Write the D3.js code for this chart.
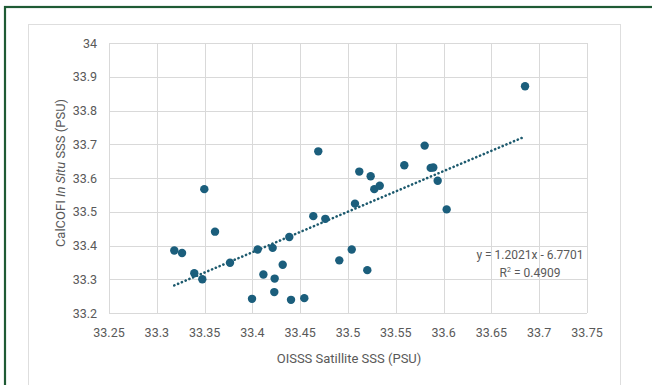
<!DOCTYPE html>
<html lang="en">
<head>
	<meta charset="UTF-8">
	<title>OISSS vs CalCOFI SSS</title>
	<script src="https://cdnjs.cloudflare.com/ajax/libs/d3/7.8.5/d3.min.js"></script>
	<style>
		body { margin: 0; background: #fff; }
		svg text { font-family: Roboto, "Liberation Sans", sans-serif; fill: #595959; }
		.grid line { stroke: #d9d9d9; stroke-width: 1; }
	</style>
</head>
<body>
	<div id="container"></div>
	<script>
		// satellite (x) vs in situ (y) salinity
		var satSSS = [33.3497, 33.3609, 33.3183, 33.3264, 33.3392, 33.3476, 33.3766, 33.4055,
			33.4212, 33.4386, 33.4317, 33.4115, 33.4233, 33.4229, 33.3996, 33.4404,
			33.6852, 33.4689, 33.5802, 33.5589, 33.5865, 33.5892, 33.5938, 33.6032,
			33.5118, 33.5237, 33.5275, 33.5332, 33.5073, 33.4637, 33.4763, 33.5039,
			33.4909, 33.5202, 33.4543];
		var insituSSS = [33.567, 33.441, 33.385, 33.378, 33.318, 33.300, 33.349, 33.388,
			33.393, 33.425, 33.343, 33.314, 33.302, 33.262, 33.242, 33.239,
			33.872, 33.679, 33.696, 33.638, 33.630, 33.631, 33.592, 33.507,
			33.619, 33.605, 33.567, 33.577, 33.524, 33.487, 33.479, 33.388,
			33.356, 33.327, 33.244];

		var xTicks = [33.25, 33.3, 33.35, 33.4, 33.45, 33.5, 33.55, 33.6, 33.65, 33.7, 33.75];
		var yTicks = [33.2, 33.3, 33.4, 33.5, 33.6, 33.7, 33.8, 33.9, 34];

		var slope = 1.2021, intercept = -6.7701;
		var eqText = "y = 1.2021x - 6.7701";
		var r2Text = "0.4909";

		var width = 652, height = 385;
		var plot = { left: 109, right: 587, top: 43, bottom: 313 };

		var svg = d3.select("#container").append("svg")
			.attr("width", width)
			.attr("height", height);

		// dark green outer frame
		svg.append("rect")
			.attr("x", 5).attr("y", 7)
			.attr("width", 700).attr("height", 420)
			.attr("fill", "none")
			.attr("stroke", "#1f5b35")
			.attr("stroke-width", 2.2);

		// chart area
		svg.append("rect")
			.attr("x", 28.5).attr("y", 24.5)
			.attr("width", 592).attr("height", 400)
			.attr("fill", "#fff")
			.attr("stroke", "#dedede");

		var x = d3.scaleLinear().domain([33.25, 33.75]).range([plot.left, plot.right]);
		var y = d3.scaleLinear().domain([33.2, 34]).range([plot.bottom, plot.top]);

		var grid = svg.append("g").attr("class", "grid");
		grid.selectAll(".gx").data(xTicks).enter().append("line")
			.attr("x1", function(d){ return Math.round(x(d)) + 0.5; })
			.attr("x2", function(d){ return Math.round(x(d)) + 0.5; })
			.attr("y1", plot.top).attr("y2", plot.bottom);
		grid.selectAll(".gy").data(yTicks).enter().append("line")
			.attr("y1", function(d){ return Math.round(y(d)) + 0.5; })
			.attr("y2", function(d){ return Math.round(y(d)) + 0.5; })
			.attr("x1", plot.left).attr("x2", plot.right);

		// tick labels
		svg.append("g").selectAll("text").data(xTicks).enter().append("text")
			.attr("x", function(d){ return x(d); })
			.attr("y", 337)
			.attr("text-anchor", "middle")
			.attr("font-size", "12.5px")
			.text(function(d){ return d; });

		svg.append("g").selectAll("text").data(yTicks).enter().append("text")
			.attr("x", 97)
			.attr("y", function(d){ return y(d) + 4.5; })
			.attr("text-anchor", "end")
			.attr("font-size", "12.5px")
			.text(function(d){ return d; });

		// axis titles
		svg.append("text")
			.attr("x", 349).attr("y", 363)
			.attr("text-anchor", "middle")
			.attr("font-size", "13px")
			.text("OISSS Satillite SSS (PSU)");

		var yt = svg.append("text")
			.attr("transform", "translate(65,173) rotate(-90)")
			.attr("text-anchor", "middle")
			.attr("font-size", "13px");
		yt.append("tspan").text("CalCOFI ");
		yt.append("tspan").attr("font-style", "italic").text("In Situ");
		yt.append("tspan").text(" SSS (PSU)");

		// linear trendline over the data range
		var xExt = d3.extent(satSSS);
		var trend = xExt.map(function(v){ return [v, slope * v + intercept]; });
		svg.append("path")
			.datum(trend)
			.attr("d", d3.line().x(function(d){ return x(d[0]); }).y(function(d){ return y(d[1]); }))
			.attr("fill", "none")
			.attr("stroke", "#1d5a6e")
			.attr("stroke-width", 2.6)
			.attr("stroke-linecap", "round")
			.attr("stroke-dasharray", "0.1,4");

		// points
		svg.append("g").selectAll("circle").data(d3.zip(satSSS, insituSSS)).enter().append("circle")
			.attr("cx", function(d){ return x(d[0]); })
			.attr("cy", function(d){ return y(d[1]); })
			.attr("r", 4.2)
			.attr("fill", "#1b5e7c");

		// trendline label
		svg.append("text")
			.attr("x", 530).attr("y", 259)
			.attr("text-anchor", "middle")
			.attr("font-size", "12px")
			.text(eqText);
		var r2 = svg.append("text")
			.attr("x", 530).attr("y", 277)
			.attr("text-anchor", "middle")
			.attr("font-size", "12px");
		r2.append("tspan").text("R");
		r2.append("tspan").attr("font-size", "7px").attr("dy", -5).text("2");
		r2.append("tspan").attr("dy", 5).text(" = " + r2Text);
	</script>
</body>
</html>
